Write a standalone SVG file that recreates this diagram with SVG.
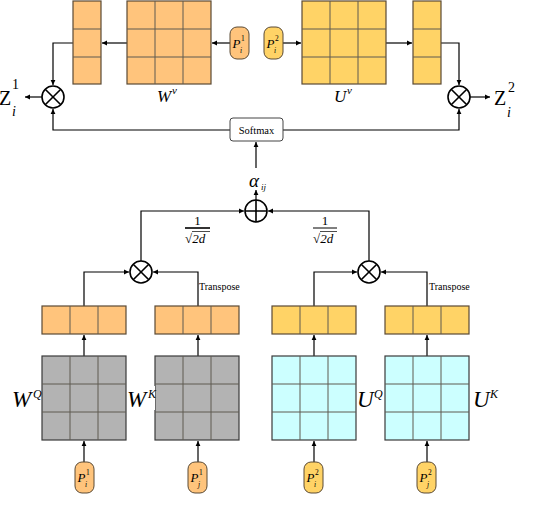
<svg xmlns="http://www.w3.org/2000/svg" width="546" height="530" viewBox="0 0 546 530">
<style>
.or{fill:#FFC47C;stroke:#5a4a35;stroke-width:1.2}
.ye{fill:#FFD366;stroke:#5a4a35;stroke-width:1.2}
.gr{fill:#B3B3B3;stroke:#3a3a3a;stroke-width:1.2}
.cy{fill:#CCFFFF;stroke:#3a3a3a;stroke-width:1.2}
.in{fill:none;stroke:#5f5a50;stroke-width:1}
.pill{stroke:#5a4a35;stroke-width:1}
.op{fill:#fff;stroke:#000;stroke-width:1.6}
.opx{fill:none;stroke:#000;stroke-width:1.6}
.cn{fill:none;stroke:#000;stroke-width:1.2;marker-end:url(#ah)}
.t{font-family:"Liberation Serif",serif;fill:#000}
.it{font-style:italic}
</style>
<defs>
<marker id="ah" markerWidth="7" markerHeight="7" refX="5" refY="3" orient="auto" markerUnits="userSpaceOnUse"><path d="M0,0.6 L5,3 L0,5.4 Z" fill="#000"/></marker>
</defs>
<rect width="546" height="530" fill="#fff"/>

<g id="connectors">
<path class="cn" d="M230,43 L212,43"/>
<path class="cn" d="M127,43 L102,43"/>
<path class="cn" d="M73,43 L53,43 L53,85"/>
<path class="cn" d="M42,97 L25,97"/>
<path class="cn" d="M230,130 L53,130 L53,109"/>
<path class="cn" d="M283,43 L301,43"/>
<path class="cn" d="M386,43 L412,43"/>
<path class="cn" d="M441,43 L459,43 L459,85"/>
<path class="cn" d="M470,97 L490,97"/>
<path class="cn" d="M283,130 L459,130 L459,109"/>
<path class="cn" d="M256,168 L256,142"/>
<path class="cn" d="M256,200 L256,190"/>
<path class="cn" d="M141,261 L141,211 L244,211"/>
<path class="cn" d="M369,261 L369,211 L268,211"/>
<path class="cn" d="M84,306 L84,272 L129,272"/>
<path class="cn" d="M198,306 L198,272 L153,272"/>
<path class="cn" d="M314,306 L314,272 L357,272"/>
<path class="cn" d="M427,306 L427,272 L381,272"/>
<path class="cn" d="M84,356 L84,335"/>
<path class="cn" d="M198,356 L198,335"/>
<path class="cn" d="M314,356 L314,335"/>
<path class="cn" d="M427,356 L427,335"/>
<path class="cn" d="M84,462 L84,441"/>
<path class="cn" d="M198,462 L198,441"/>
<path class="cn" d="M314,462 L314,441"/>
<path class="cn" d="M427,462 L427,441"/>
</g>

<g id="vecVL"><rect class="or" x="73" y="1" width="28" height="83"/><path class="in" d="M73,29 H101 M73,57 H101"/></g>
<g id="matWv"><rect class="or" x="127" y="1" width="84" height="83"/><path class="in" d="M155,1 V84 M183,1 V84 M127,29 H211 M127,57 H211"/>
<text class="t it" x="157" y="102" font-size="17">W</text><text class="t it" x="172" y="94" font-size="11">v</text></g>
<g id="pillTop1"><rect class="or pill" x="230" y="27" width="19" height="32" rx="7"/>
<text class="t it" x="232.5" y="48" font-size="13">P</text><text class="t" x="241" y="41" font-size="7.5">1</text><text class="t it" x="240" y="53" font-size="7.5">i</text></g>
<g id="pillTop2"><rect class="ye pill" x="264" y="27" width="19" height="32" rx="7"/>
<text class="t it" x="266.5" y="48" font-size="13">P</text><text class="t" x="275" y="41" font-size="7.5">2</text><text class="t it" x="274" y="53" font-size="7.5">i</text></g>
<g id="matUv"><rect class="ye" x="302" y="1" width="84" height="83"/><path class="in" d="M330,1 V84 M358,1 V84 M302,29 H386 M302,57 H386"/>
<text class="t it" x="334" y="102" font-size="17">U</text><text class="t it" x="347" y="94" font-size="11">v</text></g>
<g id="vecVR"><rect class="ye" x="413" y="1" width="28" height="83"/><path class="in" d="M413,29 H441 M413,57 H441"/></g>

<g id="otimesL"><circle class="op" cx="53" cy="97" r="11"/><path class="opx" d="M45.2,89.2 L60.8,104.8 M60.8,89.2 L45.2,104.8"/></g>
<g id="Z1"><text class="t" x="-1" y="105" font-size="20">Z</text><text class="t" x="12" y="89" font-size="14">1</text><text class="t it" x="12" y="116" font-size="14">i</text></g>
<g id="otimesR"><circle class="op" cx="459" cy="97" r="11"/><path class="opx" d="M451.2,89.2 L466.8,104.8 M466.8,89.2 L451.2,104.8"/></g>
<g id="Z2"><text class="t" x="494" y="105" font-size="20">Z</text><text class="t" x="508" y="92" font-size="14">2</text><text class="t it" x="507" y="117" font-size="14">i</text></g>

<g id="softmax"><rect x="230" y="118" width="53" height="23" rx="3" fill="#fff" stroke="#444" stroke-width="1"/>
<text class="t" x="256.5" y="133.5" font-size="10.5" text-anchor="middle">Softmax</text></g>
<g id="alpha"><text class="t it" x="249" y="187" font-size="19">α</text><text class="t it" x="261" y="190" font-size="9">ij</text></g>
<g id="oplus"><circle class="op" cx="256" cy="211" r="11"/><path class="opx" d="M245,211 H267 M256,200 V222"/></g>

<g id="fracL"><text class="t" x="197.5" y="225" font-size="13" text-anchor="middle">1</text><path d="M185,228 H210" stroke="#000" stroke-width="1.6"/>
<text class="t" x="185" y="243" font-size="13">√<tspan font-style="italic">2d</tspan></text><path d="M192,231.5 H210" stroke="#000" stroke-width="0.7"/></g>
<g id="fracR"><text class="t" x="325" y="225" font-size="13" text-anchor="middle">1</text><path d="M313,228 H337" stroke="#000" stroke-width="1"/>
<text class="t" x="313" y="243" font-size="13">√<tspan font-style="italic">2d</tspan></text><path d="M320,231.5 H337" stroke="#000" stroke-width="0.7"/></g>

<g id="otimesQ"><circle class="op" cx="141" cy="272" r="11"/><path class="opx" d="M133.2,264.2 L148.8,279.8 M148.8,264.2 L133.2,279.8"/></g>
<g id="otimesU"><circle class="op" cx="369" cy="272" r="11"/><path class="opx" d="M361.2,264.2 L376.8,279.8 M376.8,264.2 L361.2,279.8"/></g>
<text class="t" x="199" y="290" font-size="10">Transpose</text>
<text class="t" x="429" y="290" font-size="10">Transpose</text>

<g id="vecQ"><rect class="or" x="42" y="306" width="84" height="28"/><path class="in" d="M70,306 V334 M98,306 V334"/></g>
<g id="vecK"><rect class="or" x="155" y="306" width="84" height="28"/><path class="in" d="M183,306 V334 M211,306 V334"/></g>
<g id="vecUQ"><rect class="ye" x="272" y="306" width="84" height="28"/><path class="in" d="M300,306 V334 M328,306 V334"/></g>
<g id="vecUK"><rect class="ye" x="385" y="306" width="84" height="28"/><path class="in" d="M413,306 V334 M441,306 V334"/></g>

<g id="matWQ"><rect class="gr" x="42" y="356" width="84" height="84"/><path class="in" d="M70,356 V440 M98,356 V440 M42,384 H126 M42,412 H126"/>
<text class="t it" x="12" y="407" font-size="23">W</text><text class="t it" x="33" y="398" font-size="12">Q</text></g>
<g id="matWK"><rect class="gr" x="155" y="356" width="84" height="84"/><path class="in" d="M183,356 V440 M211,356 V440 M155,384 H239 M155,412 H239"/>
<rect x="127" y="386" width="28" height="24" fill="#fff"/>
<text class="t it" x="127" y="407" font-size="23">W</text><text class="t it" x="148" y="398" font-size="12">K</text></g>
<g id="matUQ"><rect class="cy" x="272" y="356" width="84" height="84"/><path class="in" d="M300,356 V440 M328,356 V440 M272,384 H356 M272,412 H356"/>
<text class="t it" x="357" y="407" font-size="23">U</text><text class="t it" x="374" y="398" font-size="12">Q</text></g>
<g id="matUK"><rect class="cy" x="385" y="356" width="84" height="84"/><path class="in" d="M413,356 V440 M441,356 V440 M385,384 H469 M385,412 H469"/>
<text class="t it" x="473" y="407" font-size="23">U</text><text class="t it" x="490" y="398" font-size="12">K</text></g>

<g id="pillQ"><rect class="or pill" x="75" y="462" width="19" height="31" rx="7"/>
<text class="t it" x="77.5" y="482" font-size="13">P</text><text class="t" x="86" y="475" font-size="7.5">1</text><text class="t it" x="85" y="487" font-size="7.5">i</text></g>
<g id="pillK"><rect class="or pill" x="188" y="462" width="19" height="31" rx="7"/>
<text class="t it" x="190.5" y="482" font-size="13">P</text><text class="t" x="199" y="475" font-size="7.5">1</text><text class="t it" x="198" y="487" font-size="7.5">j</text></g>
<g id="pillUQ"><rect class="ye pill" x="304" y="462" width="19" height="31" rx="7"/>
<text class="t it" x="306.5" y="482" font-size="13">P</text><text class="t" x="315" y="475" font-size="7.5">2</text><text class="t it" x="314" y="487" font-size="7.5">i</text></g>
<g id="pillUK"><rect class="ye pill" x="417" y="462" width="19" height="31" rx="7"/>
<text class="t it" x="419.5" y="482" font-size="13">P</text><text class="t" x="428" y="475" font-size="7.5">2</text><text class="t it" x="427" y="487" font-size="7.5">j</text></g>
</svg>
